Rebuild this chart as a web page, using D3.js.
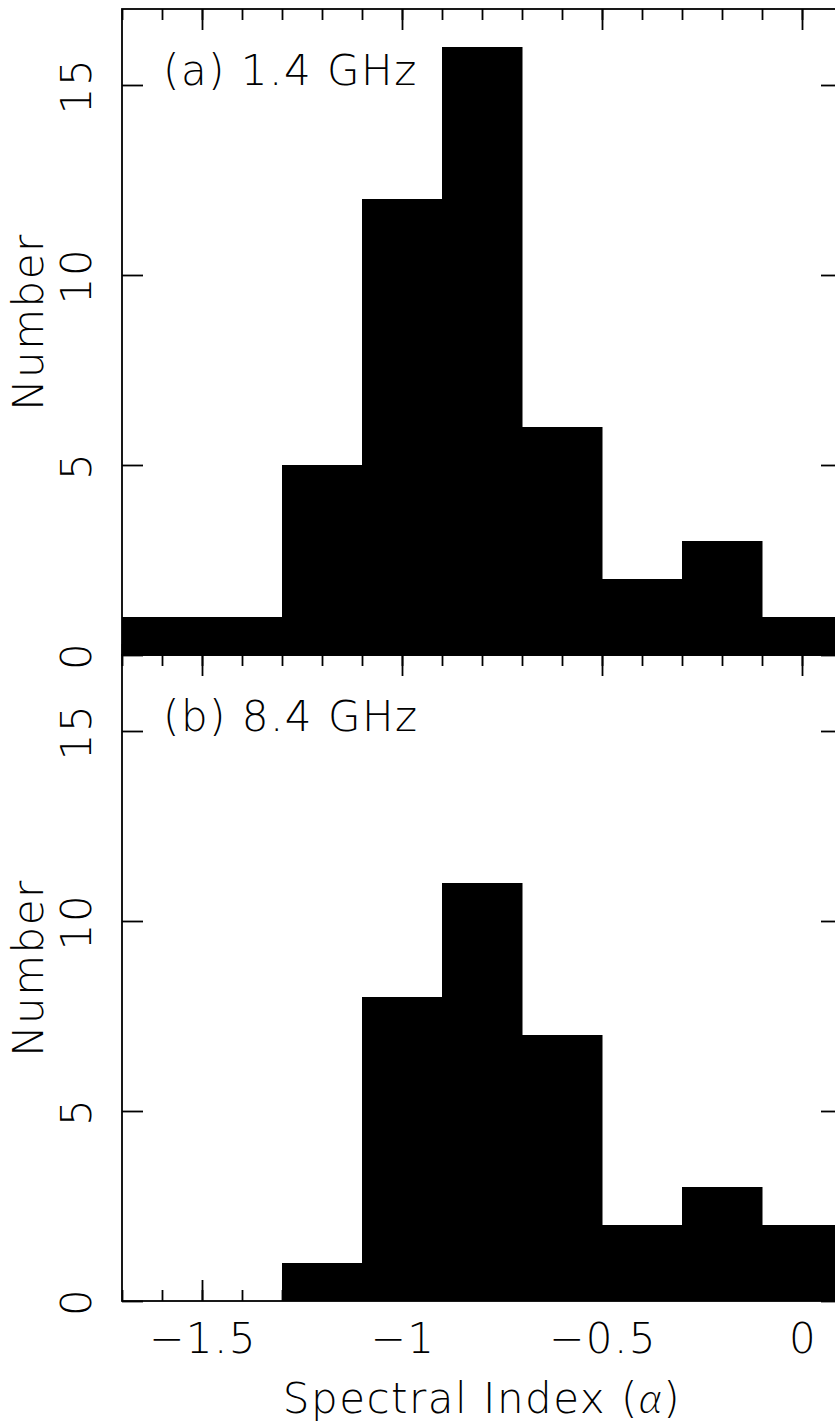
<!DOCTYPE html>
<html>
<head>
<meta charset="utf-8">
<script src="https://cdn.jsdelivr.net/npm/d3@7"></script>
<style>
  html, body { margin: 0; padding: 0; background: #fff; overflow: hidden; }
  svg { display: block; }
  text { font-family: "DejaVu Sans", sans-serif; font-weight: 200; fill: #000; letter-spacing: 1.5px; }
  .alpha { font-family: Lato, "Noto Sans", sans-serif; font-style: italic; font-weight: 300; }
  .domain { display: none; }
  .tick line { stroke: #000; stroke-width: 1.8; }
</style>
</head>
<body>
<svg id="chart" width="835" height="1425"></svg>
<script>
// bin edges of the histogram (spectral index)
const binEdges = [-1.7, -1.5, -1.3, -1.1, -0.9, -0.7, -0.5, -0.3, -0.1, 0.1];
// counts per bin, 1.4 GHz and 8.4 GHz
const counts14 = [1, 1, 5, 12, 16, 6, 2, 3, 1];
const counts84 = [0, 0, 1, 8, 11, 7, 2, 3, 2];
const panelNames = ['(a) 1.4 GHz', '(b) 8.4 GHz'];
const xMajor = [-1.5, -1, -0.5, 0];
const xMinor = d3.range(-17, 2).map(d => d / 10);
const yMajor = [0, 5, 10, 15];

const svg = d3.select('#chart');
const left = 122, right = 842;
const panelTop = [9, 655];
const panelH = 646;

const x = d3.scaleLinear().domain([-1.7, 0.1]).range([left, right]);

const panels = [counts14, counts84];

panels.forEach((counts, i) => {
  const top = panelTop[i];
  const y = d3.scaleLinear().domain([0, 17]).range([top + panelH, top]);
  const g = svg.append('g');

  // histogram bars
  const bins = counts.map((c, j) => ({ x0: binEdges[j], x1: binEdges[j + 1], n: c }));
  g.selectAll('rect.bar')
    .data(bins.filter(d => d.n > 0))
    .join('rect')
    .attr('class', 'bar')
    .attr('x', d => x(d.x0))
    .attr('width', d => x(d.x1) - x(d.x0) + 0.5)
    .attr('y', d => y(d.n))
    .attr('height', d => y(0) - y(d.n))
    .attr('fill', '#000');

  // ticks, pointing into the panel
  const minorAxisB = d3.axisBottom(x).tickValues(xMinor).tickSize(-11).tickFormat('');
  const majorAxisB = d3.axisBottom(x).tickValues(xMajor).tickSize(-21).tickFormat('');
  const minorAxisT = d3.axisTop(x).tickValues(xMinor).tickSize(-11).tickFormat('');
  const majorAxisT = d3.axisTop(x).tickValues(xMajor).tickSize(-21).tickFormat('');
  g.append('g').attr('transform', `translate(0,${top + panelH})`).call(minorAxisB);
  g.append('g').attr('transform', `translate(0,${top + panelH})`).call(majorAxisB);
  g.append('g').attr('transform', `translate(0,${top})`).call(minorAxisT);
  g.append('g').attr('transform', `translate(0,${top})`).call(majorAxisT);

  const yAxisL = d3.axisLeft(y).tickValues(yMajor).tickSize(-21).tickFormat('');
  const yAxisR = d3.axisRight(y).tickValues(yMajor).tickSize(-21).tickFormat('');
  g.append('g').attr('transform', `translate(${left},0)`).call(yAxisL);
  g.append('g').attr('transform', `translate(${right},0)`).call(yAxisR);

  // frame
  g.append('rect')
    .attr('x', left).attr('y', top)
    .attr('width', right - left).attr('height', panelH)
    .attr('fill', 'none').attr('stroke', '#000').attr('stroke-width', 1.8);

  // y tick labels, rotated
  g.selectAll('text.ylab')
    .data(yMajor)
    .join('text')
    .attr('class', 'ylab')
    .attr('transform', d => `translate(91,${y(d) + 1}) rotate(-90)`)
    .attr('text-anchor', 'middle')
    .style('font-size', '42px')
    .text(d => d);

  g.append('text')
    .attr('transform', `translate(43,${top + panelH / 2 - 10}) rotate(-90)`)
    .attr('text-anchor', 'middle')
    .style('font-size', '42px')
    .text('Number');

  g.append('text')
    .attr('x', 163)
    .attr('y', y(15))
    .style('font-size', '42px')
    .text(panelNames[i]);
});

// x tick labels under the lower panel
svg.append('g')
  .selectAll('text')
  .data(xMajor)
  .join('text')
  .attr('x', d => x(d) + 1)
  .attr('y', 1353)
  .attr('text-anchor', 'middle')
  .style('font-size', '42px')
  .text(d => d3.format('')(d));

const title = svg.append('text')
  .attr('x', (left + right) / 2)
  .attr('y', 1413)
  .attr('text-anchor', 'middle')
  .style('font-size', '42px');
title.append('tspan').text('Spectral Index (');
title.append('tspan').attr('class', 'alpha').text('α');
title.append('tspan').text(')');
</script>
</body>
</html>
